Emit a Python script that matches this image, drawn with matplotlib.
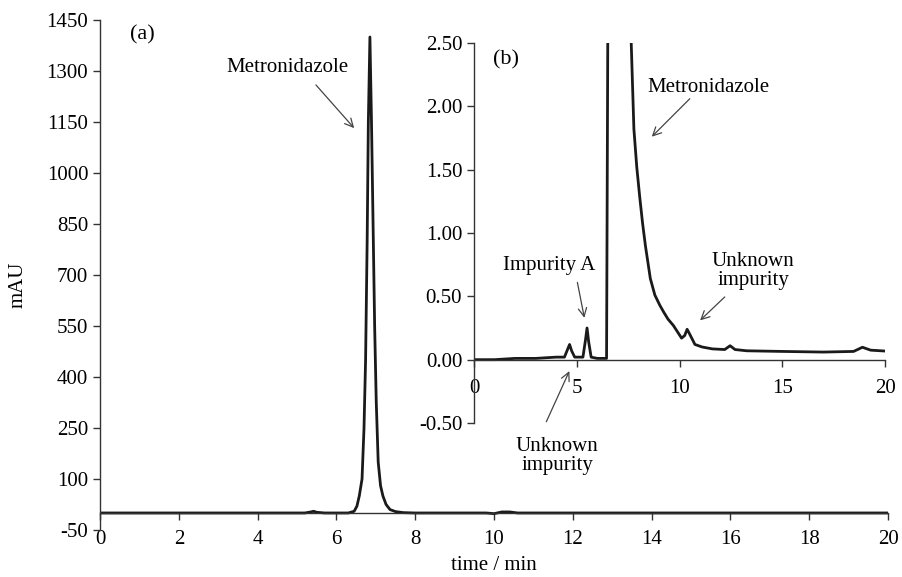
import numpy as np
import matplotlib.pyplot as plt

plt.rcParams['font.family'] = ['Liberation Serif', 'DejaVu Serif']
plt.rcParams['font.size'] = 15
plt.rcParams['axes.unicode_minus'] = False

# full chromatogram (a), time in min, signal in mAU
main_t = [0, 2, 4, 5.2, 5.35, 5.42, 5.5, 5.7, 6.3, 6.45, 6.52, 6.58, 6.65, 6.70,
          6.74, 6.78, 6.81, 6.85, 6.89, 6.93, 6.97, 7.01, 7.06, 7.12, 7.18, 7.26,
          7.36, 7.50, 7.70, 8.0, 9.8, 10.0, 10.2, 10.4, 10.6, 11, 14, 20]
main_v = [0, 0, 0, 0, 3, 5, 2, 0, 0, 5, 20, 50, 100, 250,
          450, 800, 1150, 1400, 1150, 850, 550, 330, 150, 80, 50, 25,
          10, 4, 1, 0, 0, -2, 3, 3, 0, 0, 0, 0]

# zoomed chromatogram (b), signal in mAU
zoom_t = [0, 1, 2, 3, 4, 4.4, 4.55, 4.65, 4.75, 4.9, 5.3, 5.42, 5.5, 5.58, 5.7, 6.0,
          6.45, 6.52, 7.55, 7.65, 7.78, 7.92, 8.06, 8.2, 8.34, 8.58, 8.8, 9.04, 9.25,
          9.44, 9.7, 9.9, 10.1, 10.25, 10.37, 10.5, 10.75, 11.1, 11.6, 12.2, 12.46,
          12.7, 13.27, 15, 17, 18.47, 18.9, 19.3, 20]
zoom_v = [0, 0.0, 0.01, 0.01, 0.02, 0.02, 0.08, 0.12, 0.07, 0.02, 0.02, 0.15, 0.25,
          0.14, 0.02, 0.01, 0.01, 3.0, 3.0, 2.5, 1.82, 1.52, 1.29, 1.08, 0.90, 0.64,
          0.51, 0.43, 0.37, 0.32, 0.27, 0.22, 0.17, 0.19, 0.24, 0.20, 0.12, 0.10,
          0.085, 0.08, 0.11, 0.08, 0.07, 0.065, 0.06, 0.065, 0.098, 0.075, 0.068]

line_col = '#1a1a1a'
axis_col = '#333333'
arrow = dict(arrowstyle='->', color='#444444', lw=0.9, shrinkA=0, shrinkB=0)

fig = plt.figure(figsize=(9.02, 5.77), dpi=100)
ax = fig.add_axes([0.1109, 0.0815, 0.8736, 0.8838])
axi = fig.add_axes([0.5255, 0.2669, 0.4557, 0.6586])

def style_axes(a):
    for s in ['top', 'right']:
        a.spines[s].set_visible(False)
    for s in ['left', 'bottom']:
        a.spines[s].set_color(axis_col)
        a.spines[s].set_linewidth(1.0)
    a.spines['bottom'].set_position(('data', 0))
    a.tick_params(direction='out', length=5, width=1.0, color=axis_col)
    a.tick_params(axis='x', pad=7)

# (a)
ax.plot(main_t, main_v, color=line_col, lw=2.0)
style_axes(ax)
ax.set_xlim(0, 20)
ax.set_ylim(-50, 1450)
ax.set_xticks(np.arange(0, 21, 2))
ax.set_yticks(np.arange(-50, 1451, 150))
ax.set_xlabel('time / min')
ax.set_ylabel('mAU')
ax.xaxis.set_label_coords(0.5, -0.052)
ax.yaxis.set_label_coords(-0.092, 0.48)
ax.text(1.07, 1406, '(a)', ha='center', va='center', fontsize=16)
ax.text(4.75, 1309, 'Metronidazole', ha='center', va='center')
ax.annotate('', xy=(6.45, 1132), xytext=(5.48, 1259), arrowprops=arrow)

# (b)
axi.patch.set_alpha(0)
axi.plot(zoom_t, zoom_v, color=line_col, lw=2.0)
style_axes(axi)
axi.tick_params(axis='x', pad=9)
axi.set_xlim(0, 20)
axi.set_ylim(-0.5, 2.5)
axi.set_xticks(np.arange(0, 21, 5))
axi.set_yticks(np.arange(-0.5, 2.51, 0.5))
axi.yaxis.set_major_formatter(plt.FormatStrFormatter('%.2f'))
axi.text(1.56, 2.37, '(b)', ha='center', va='center', fontsize=16)
axi.text(11.43, 2.15, 'Metronidazole', ha='center', va='center')
axi.annotate('', xy=(8.65, 1.76), xytext=(10.5, 2.06), arrowprops=arrow)
axi.text(3.66, 0.74, 'Impurity A', ha='center', va='center')
axi.annotate('', xy=(5.37, 0.33), xytext=(5.03, 0.61), arrowprops=arrow)
axi.text(13.58, 0.70, 'Unknown\nimpurity', ha='center', va='center', linespacing=1.0)
axi.annotate('', xy=(11.0, 0.31), xytext=(12.2, 0.495), arrowprops=arrow)
axi.text(4.05, -0.76, 'Unknown\nimpurity', ha='center', va='center', linespacing=1.0)
axi.annotate('', xy=(4.64, -0.09), xytext=(3.52, -0.49), arrowprops=arrow)

fig.savefig('out.png', dpi=100)
